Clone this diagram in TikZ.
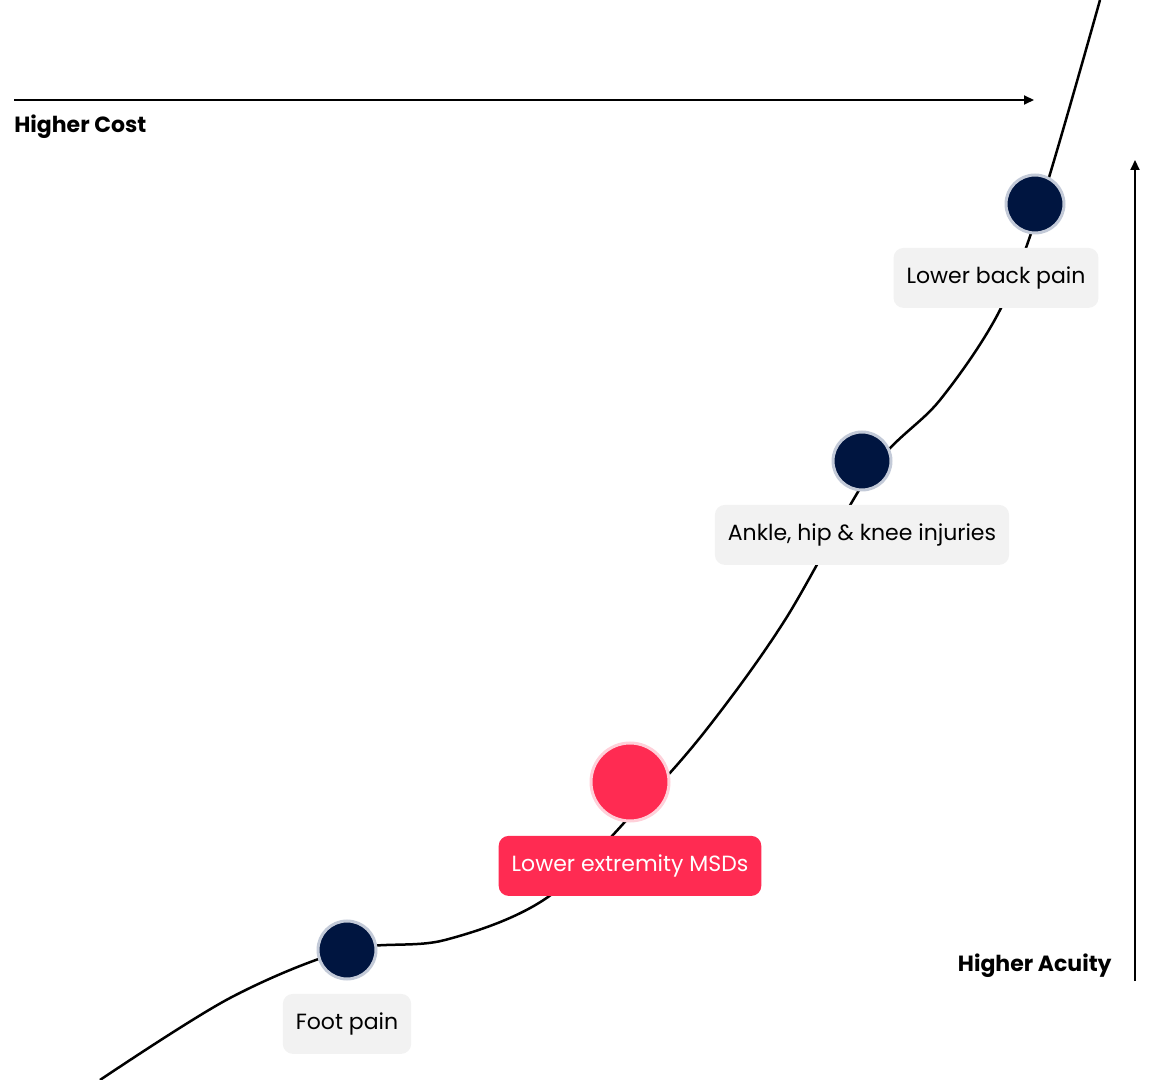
\documentclass[tikz,border=0pt]{standalone}
\usepackage{fontspec}
\setmainfont{Poppins}
\usetikzlibrary{positioning,arrows.meta}
\definecolor{DotNavy}{HTML}{001540}
\definecolor{DotRing}{HTML}{C3CAD8}
\definecolor{AlertRed}{HTML}{FF2B52}
\definecolor{AlertRing}{HTML}{FFD0D9}
\definecolor{TagGray}{HTML}{F2F2F2}
\tikzset{
  dot/.style={circle,fill=DotNavy,draw=DotRing,line width=1.5pt,minimum size=29pt,inner sep=0pt},
  alertdot/.style={dot,fill=AlertRed,draw=AlertRing,minimum size=39pt},
  tag/.style={fill=TagGray,rounded corners=5pt,minimum height=30pt,inner xsep=6.5pt,font=\fontsize{11}{13}\selectfont},
  alerttag/.style={tag,fill=AlertRed,text=white},
  axis/.style={line width=1pt,-{Triangle[length=5pt,width=4.5pt]}},
  axislabel/.style={font=\fontsize{11}{13}\selectfont\bfseries,inner sep=0pt}
}
\begin{document}
\begin{tikzpicture}[x=0.5pt,y=-0.5pt]
    \useasboundingbox (0,0) rectangle (1153,1080);
    \coordinate (P1) at (347,950);
    \coordinate (P2) at (630,782);
    \coordinate (P3) at (862,461);
    \coordinate (P4) at (1035,204);
    \draw[line width=1.25pt] plot[smooth,tension=0.55] coordinates {(100,1080) (230,998) (P1) (445,940) (548,897) (645,800) (710,725) (785,620) (872,470) (940,400) (1000,310) (1042,200) (1100,0)};
    \node[dot] (foot) at (P1) {};
    \node[alertdot] (msd) at (P2) {};
    \node[dot] (ankle) at (P3) {};
    \node[dot] (back) at (P4) {};
    \node[tag,below=6.5pt of foot] (footlabel) {Foot pain};
    \node[alerttag,below=6.5pt of msd] (msdlabel) {Lower extremity MSDs};
    \node[tag,below=6.5pt of ankle] (anklelabel) {Ankle, hip \& knee injuries};
    \node[tag,below=6.5pt of back,xshift=-19.5pt] (backlabel) {Lower back pain};
    \coordinate (costA) at (14,100);
    \coordinate (costB) at (1034,100);
    \draw[axis] (costA) -- (costB);
    \node[axislabel,anchor=north west] (cost) at (14,114) {Higher Cost};
    \coordinate (acuA) at (1135,981);
    \coordinate (acuB) at (1135,160);
    \draw[axis] (acuA) -- (acuB);
    \node[axislabel,anchor=south east] (acuity) at (1112,978) {Higher Acuity};
\end{tikzpicture}
\end{document}
